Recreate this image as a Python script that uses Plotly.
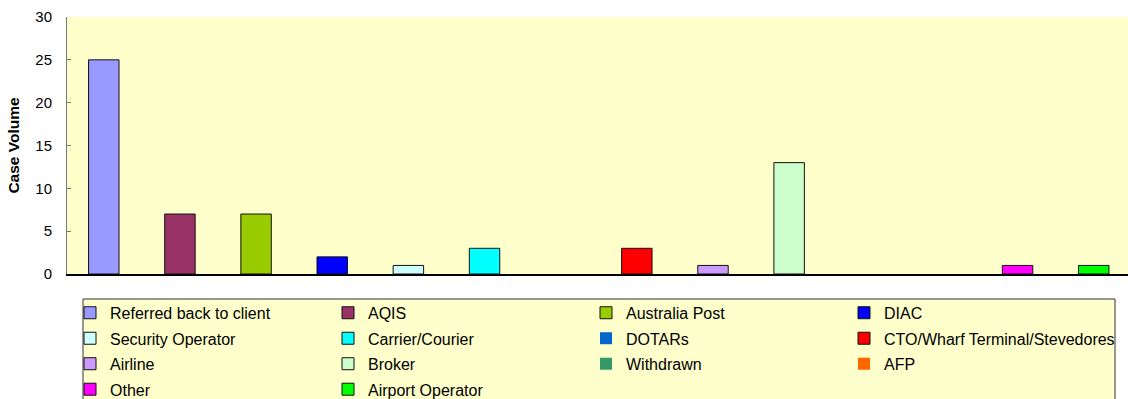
import plotly.graph_objects as go

# Case volume by referral destination
categories = [
    "Referred back to client", "AQIS", "Australia Post", "DIAC",
    "Security Operator", "Carrier/Courier", "DOTARs",
    "CTO/Wharf Terminal/Stevedores", "Airline", "Broker", "Withdrawn",
    "AFP", "Other", "Airport Operator",
]
case_volume = [25, 7, 7, 2, 1, 3, 0, 3, 1, 13, 0, 0, 1, 1]
colors = [
    "#9999FF", "#993366", "#99CC00", "#0000FF", "#CCFFFF", "#00FFFF",
    "#0066CC", "#FF0000", "#CC99FF", "#CCFFCC", "#339966", "#FF6600",
    "#FF00FF", "#00FF00",
]
y_ticks = [0, 5, 10, 15, 20, 25, 30]

FONT = "Arial, Liberation Sans, Helvetica, sans-serif"
W, H = 1128, 399
ML, MR, MT, MB = 67, 0, 17, 125
PW, PH = W - ML - MR, H - MT - MB
N_COLS = 4
COL_STEP = 258          # pixel distance between legend columns
LEGEND_LEFT = 70        # left pixel of the first legend column
LEGEND_TOP = 295


def px_x(p):
    """Pixel column -> paper x."""
    return (p - ML) / PW


def px_y(p):
    """Pixel row -> paper y."""
    return (H - MB - p) / PH


legend_ids = ["legend"] + [f"legend{k}" for k in range(2, N_COLS + 1)]

fig = go.Figure()
for i, (name, val, col) in enumerate(zip(categories, case_volume, colors)):
    fig.add_trace(go.Bar(
        x=[i], y=[val], name=f'<span style="font-size:16px">{name}</span>',
        marker=dict(color=col,
                    line=dict(color="#111111", width=1 if val else 0)),
        width=0.4, showlegend=True,
        legend=legend_ids[i % N_COLS],
    ))

# frame behind the legend entries
fig.add_shape(
    type="rect", xref="paper", yref="paper",
    x0=px_x(83), x1=px_x(1115), y0=px_y(299), y1=px_y(420),
    line=dict(color="#333333", width=1), fillcolor="#FFFFCC", layer="below",
)

legend_style = dict(
    orientation="v", xanchor="left", yanchor="top", y=px_y(LEGEND_TOP),
    bgcolor="rgba(0,0,0,0)", borderwidth=0,
    font=dict(size=17.3, family=FONT, color="black"),
    traceorder="normal",
)
legends = {
    lid: dict(legend_style, x=px_x(LEGEND_LEFT + k * COL_STEP))
    for k, lid in enumerate(legend_ids)
}

fig.update_layout(
    width=W, height=H,
    margin=dict(l=ML, r=MR, t=MT, b=MB, autoexpand=False),
    paper_bgcolor="white",
    plot_bgcolor="#FFFFCC",
    barmode="overlay",
    font=dict(family=FONT, color="black"),
    xaxis=dict(
        range=[-0.483, 13.45], showticklabels=False, ticks="",
        showgrid=False, zeroline=False,
        showline=True, linecolor="black", linewidth=1.5,
    ),
    yaxis=dict(
        range=[0, 30], tickvals=y_ticks, ticks="inside", ticklen=4,
        tickcolor="#777777", showgrid=False, zeroline=False,
        showline=True, linecolor="#777777", linewidth=1,
        tickfont=dict(size=15, family=FONT), ticklabelstandoff=11,
        title=dict(text="<b>Case Volume</b>", font=dict(size=15.5, family=FONT), standoff=11),
    ),
    showlegend=True,
    **legends,
)

fig.write_html("out.html")
